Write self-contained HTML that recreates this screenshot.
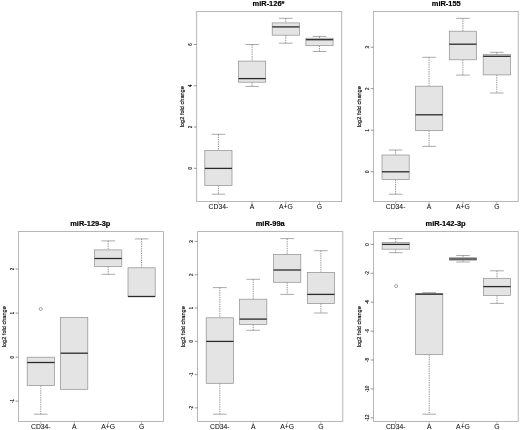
<!DOCTYPE html>
<html lang="en">
<head>
<meta charset="utf-8">
<title>miRNA log2 fold change boxplots</title>
<style>
html,body{margin:0;padding:0;background:#fff;}
body{width:520px;height:430px;overflow:hidden;}
svg{display:block;}
text{font-family:"Liberation Sans",Arial,sans-serif;fill:#222;}
.ttl{font-size:7.45px;font-weight:bold;text-anchor:middle;fill:#000;stroke:#000;stroke-width:0.18px;}
.yl{font-size:5.6px;text-anchor:middle;fill:#111;stroke:#111;stroke-width:0.2px;}
.tk{font-size:4.5px;text-anchor:middle;fill:#111;stroke:#111;stroke-width:0.15px;}
.xl{font-size:6.8px;text-anchor:middle;fill:#111;stroke:#111;stroke-width:0.06px;}
</style>
</head>
<body>
<svg width="520" height="430" viewBox="0 0 520 430">
<rect x="0" y="0" width="520" height="430" fill="#fff"/>
<g>
<rect x="196.7" y="11.5" width="145" height="190" fill="#fff" stroke="#a6a6a6" stroke-width="0.8"/>
<text class="ttl" x="268.5" y="6.25">miR-126*</text>
<text class="yl" transform="translate(184.4 106.7) rotate(-90)">log2 fold change</text>
<line x1="193.9" y1="168.3" x2="196.7" y2="168.3" stroke="#6a6a6a" stroke-width="0.7"/>
<text class="tk" transform="translate(191.8 168.3) rotate(-90)">0</text>
<line x1="193.9" y1="127" x2="196.7" y2="127" stroke="#6a6a6a" stroke-width="0.7"/>
<text class="tk" transform="translate(191.8 127) rotate(-90)">2</text>
<line x1="193.9" y1="85.8" x2="196.7" y2="85.8" stroke="#6a6a6a" stroke-width="0.7"/>
<text class="tk" transform="translate(191.8 85.8) rotate(-90)">4</text>
<line x1="193.9" y1="44.5" x2="196.7" y2="44.5" stroke="#6a6a6a" stroke-width="0.7"/>
<text class="tk" transform="translate(191.8 44.5) rotate(-90)">6</text>
<line x1="218.4" y1="201.5" x2="218.4" y2="204.1" stroke="#8a8a8a" stroke-width="0.6"/>
<text class="xl" x="218.4" y="209.05">CD34-</text>
<line x1="252.1" y1="201.5" x2="252.1" y2="204.1" stroke="#8a8a8a" stroke-width="0.6"/>
<text class="xl" x="252.1" y="209.05">A</text>
<line x1="285.8" y1="201.5" x2="285.8" y2="204.1" stroke="#8a8a8a" stroke-width="0.6"/>
<text class="xl" x="285.8" y="209.05">A+G</text>
<line x1="319.5" y1="201.5" x2="319.5" y2="204.1" stroke="#8a8a8a" stroke-width="0.6"/>
<text class="xl" x="319.5" y="209.05">G</text>
<line x1="218.4" y1="134.3" x2="218.4" y2="150.5" stroke="#838383" stroke-width="0.85" stroke-dasharray="1.4 0.9"/>
<line x1="211.6" y1="134.3" x2="225.2" y2="134.3" stroke="#707070" stroke-width="0.6"/>
<line x1="218.4" y1="185.4" x2="218.4" y2="194.2" stroke="#838383" stroke-width="0.85" stroke-dasharray="1.4 0.9"/>
<line x1="211.6" y1="194.2" x2="225.2" y2="194.2" stroke="#707070" stroke-width="0.6"/>
<rect x="204.8" y="150.5" width="27.2" height="34.9" fill="#e4e4e4" stroke="#8e8e8e" stroke-width="0.7"/>
<line x1="204.8" y1="168.4" x2="232" y2="168.4" stroke="#2a2a2a" stroke-width="1.3"/>
<line x1="252.1" y1="44.5" x2="252.1" y2="61.1" stroke="#838383" stroke-width="0.85" stroke-dasharray="1.4 0.9"/>
<line x1="245.3" y1="44.5" x2="258.9" y2="44.5" stroke="#707070" stroke-width="0.6"/>
<line x1="252.1" y1="82.2" x2="252.1" y2="86.4" stroke="#838383" stroke-width="0.85" stroke-dasharray="1.4 0.9"/>
<line x1="245.3" y1="86.4" x2="258.9" y2="86.4" stroke="#707070" stroke-width="0.6"/>
<rect x="238.5" y="61.1" width="27.2" height="21.1" fill="#e4e4e4" stroke="#8e8e8e" stroke-width="0.7"/>
<line x1="238.5" y1="78.6" x2="265.7" y2="78.6" stroke="#2a2a2a" stroke-width="1.3"/>
<line x1="285.8" y1="18.3" x2="285.8" y2="22.9" stroke="#838383" stroke-width="0.85" stroke-dasharray="1.4 0.9"/>
<line x1="279" y1="18.3" x2="292.6" y2="18.3" stroke="#707070" stroke-width="0.6"/>
<line x1="285.8" y1="35.2" x2="285.8" y2="43.2" stroke="#838383" stroke-width="0.85" stroke-dasharray="1.4 0.9"/>
<line x1="279" y1="43.2" x2="292.6" y2="43.2" stroke="#707070" stroke-width="0.6"/>
<rect x="272.2" y="22.9" width="27.2" height="12.3" fill="#e4e4e4" stroke="#8e8e8e" stroke-width="0.7"/>
<line x1="272.2" y1="26.9" x2="299.4" y2="26.9" stroke="#2a2a2a" stroke-width="1.3"/>
<line x1="319.5" y1="36.4" x2="319.5" y2="38.2" stroke="#838383" stroke-width="0.85" stroke-dasharray="1.4 0.9"/>
<line x1="312.7" y1="36.4" x2="326.3" y2="36.4" stroke="#707070" stroke-width="0.6"/>
<line x1="319.5" y1="45.7" x2="319.5" y2="51.5" stroke="#838383" stroke-width="0.85" stroke-dasharray="1.4 0.9"/>
<line x1="312.7" y1="51.5" x2="326.3" y2="51.5" stroke="#707070" stroke-width="0.6"/>
<rect x="305.9" y="38.2" width="27.2" height="7.5" fill="#e4e4e4" stroke="#8e8e8e" stroke-width="0.7"/>
<line x1="305.9" y1="39.7" x2="333.1" y2="39.7" stroke="#2a2a2a" stroke-width="1.3"/>
</g>
<g>
<rect x="373.5" y="11.5" width="144.7" height="190" fill="#fff" stroke="#a6a6a6" stroke-width="0.8"/>
<text class="ttl" x="446.25" y="6.25">miR-155</text>
<text class="yl" transform="translate(361.2 106.7) rotate(-90)">log2 fold change</text>
<line x1="370.7" y1="171.7" x2="373.5" y2="171.7" stroke="#6a6a6a" stroke-width="0.7"/>
<text class="tk" transform="translate(368.6 171.7) rotate(-90)">0</text>
<line x1="370.7" y1="130.2" x2="373.5" y2="130.2" stroke="#6a6a6a" stroke-width="0.7"/>
<text class="tk" transform="translate(368.6 130.2) rotate(-90)">1</text>
<line x1="370.7" y1="88.7" x2="373.5" y2="88.7" stroke="#6a6a6a" stroke-width="0.7"/>
<text class="tk" transform="translate(368.6 88.7) rotate(-90)">2</text>
<line x1="370.7" y1="47.2" x2="373.5" y2="47.2" stroke="#6a6a6a" stroke-width="0.7"/>
<text class="tk" transform="translate(368.6 47.2) rotate(-90)">3</text>
<line x1="395.6" y1="201.5" x2="395.6" y2="204.1" stroke="#8a8a8a" stroke-width="0.6"/>
<text class="xl" x="395.6" y="209.05">CD34-</text>
<line x1="429.1" y1="201.5" x2="429.1" y2="204.1" stroke="#8a8a8a" stroke-width="0.6"/>
<text class="xl" x="429.1" y="209.05">A</text>
<line x1="462.9" y1="201.5" x2="462.9" y2="204.1" stroke="#8a8a8a" stroke-width="0.6"/>
<text class="xl" x="462.9" y="209.05">A+G</text>
<line x1="496.8" y1="201.5" x2="496.8" y2="204.1" stroke="#8a8a8a" stroke-width="0.6"/>
<text class="xl" x="496.8" y="209.05">G</text>
<line x1="395.6" y1="150" x2="395.6" y2="155" stroke="#838383" stroke-width="0.85" stroke-dasharray="1.4 0.9"/>
<line x1="388.8" y1="150" x2="402.4" y2="150" stroke="#707070" stroke-width="0.6"/>
<line x1="395.6" y1="179.4" x2="395.6" y2="194.2" stroke="#838383" stroke-width="0.85" stroke-dasharray="1.4 0.9"/>
<line x1="388.8" y1="194.2" x2="402.4" y2="194.2" stroke="#707070" stroke-width="0.6"/>
<rect x="382" y="155" width="27.2" height="24.4" fill="#e4e4e4" stroke="#8e8e8e" stroke-width="0.7"/>
<line x1="382" y1="171.8" x2="409.2" y2="171.8" stroke="#2a2a2a" stroke-width="1.3"/>
<line x1="429.1" y1="57.3" x2="429.1" y2="86.2" stroke="#838383" stroke-width="0.85" stroke-dasharray="1.4 0.9"/>
<line x1="422.3" y1="57.3" x2="435.9" y2="57.3" stroke="#707070" stroke-width="0.6"/>
<line x1="429.1" y1="130.6" x2="429.1" y2="146.4" stroke="#838383" stroke-width="0.85" stroke-dasharray="1.4 0.9"/>
<line x1="422.3" y1="146.4" x2="435.9" y2="146.4" stroke="#707070" stroke-width="0.6"/>
<rect x="415.5" y="86.2" width="27.2" height="44.4" fill="#e4e4e4" stroke="#8e8e8e" stroke-width="0.7"/>
<line x1="415.5" y1="114.8" x2="442.7" y2="114.8" stroke="#2a2a2a" stroke-width="1.3"/>
<line x1="462.9" y1="18.3" x2="462.9" y2="31.2" stroke="#838383" stroke-width="0.85" stroke-dasharray="1.4 0.9"/>
<line x1="456.1" y1="18.3" x2="469.7" y2="18.3" stroke="#707070" stroke-width="0.6"/>
<line x1="462.9" y1="59.8" x2="462.9" y2="75.1" stroke="#838383" stroke-width="0.85" stroke-dasharray="1.4 0.9"/>
<line x1="456.1" y1="75.1" x2="469.7" y2="75.1" stroke="#707070" stroke-width="0.6"/>
<rect x="449.3" y="31.2" width="27.2" height="28.6" fill="#e4e4e4" stroke="#8e8e8e" stroke-width="0.7"/>
<line x1="449.3" y1="44.2" x2="476.5" y2="44.2" stroke="#2a2a2a" stroke-width="1.3"/>
<line x1="496.8" y1="52.3" x2="496.8" y2="54.3" stroke="#838383" stroke-width="0.85" stroke-dasharray="1.4 0.9"/>
<line x1="490" y1="52.3" x2="503.6" y2="52.3" stroke="#707070" stroke-width="0.6"/>
<line x1="496.8" y1="74.9" x2="496.8" y2="93" stroke="#838383" stroke-width="0.85" stroke-dasharray="1.4 0.9"/>
<line x1="490" y1="93" x2="503.6" y2="93" stroke="#707070" stroke-width="0.6"/>
<rect x="483.2" y="54.3" width="27.2" height="20.6" fill="#e4e4e4" stroke="#8e8e8e" stroke-width="0.7"/>
<line x1="483.2" y1="56.3" x2="510.4" y2="56.3" stroke="#2a2a2a" stroke-width="1.3"/>
</g>
<g>
<rect x="18.4" y="231.6" width="145.2" height="189.9" fill="#fff" stroke="#a6a6a6" stroke-width="0.8"/>
<text class="ttl" x="90.3" y="226.35">miR-129-3p</text>
<text class="yl" transform="translate(6.1 326.75) rotate(-90)">log2 fold change</text>
<line x1="15.6" y1="401.1" x2="18.4" y2="401.1" stroke="#6a6a6a" stroke-width="0.7"/>
<text class="tk" transform="translate(13.5 401.1) rotate(-90)">-1</text>
<line x1="15.6" y1="357.2" x2="18.4" y2="357.2" stroke="#6a6a6a" stroke-width="0.7"/>
<text class="tk" transform="translate(13.5 357.2) rotate(-90)">0</text>
<line x1="15.6" y1="313.1" x2="18.4" y2="313.1" stroke="#6a6a6a" stroke-width="0.7"/>
<text class="tk" transform="translate(13.5 313.1) rotate(-90)">1</text>
<line x1="15.6" y1="269" x2="18.4" y2="269" stroke="#6a6a6a" stroke-width="0.7"/>
<text class="tk" transform="translate(13.5 269) rotate(-90)">2</text>
<line x1="40.8" y1="421.5" x2="40.8" y2="424.1" stroke="#8a8a8a" stroke-width="0.6"/>
<text class="xl" x="40.8" y="429.05">CD34-</text>
<line x1="74.2" y1="421.5" x2="74.2" y2="424.1" stroke="#8a8a8a" stroke-width="0.6"/>
<text class="xl" x="74.2" y="429.05">A</text>
<line x1="108.2" y1="421.5" x2="108.2" y2="424.1" stroke="#8a8a8a" stroke-width="0.6"/>
<text class="xl" x="108.2" y="429.05">A+G</text>
<line x1="141.6" y1="421.5" x2="141.6" y2="424.1" stroke="#8a8a8a" stroke-width="0.6"/>
<text class="xl" x="141.6" y="429.05">G</text>
<line x1="40.8" y1="385.5" x2="40.8" y2="414.2" stroke="#838383" stroke-width="0.85" stroke-dasharray="1.4 0.9"/>
<line x1="34" y1="414.2" x2="47.6" y2="414.2" stroke="#707070" stroke-width="0.6"/>
<rect x="27.2" y="357.2" width="27.2" height="28.3" fill="#e4e4e4" stroke="#8e8e8e" stroke-width="0.7"/>
<line x1="27.2" y1="362.5" x2="54.4" y2="362.5" stroke="#2a2a2a" stroke-width="1.3"/>
<rect x="60.6" y="317.5" width="27.2" height="71.8" fill="#e4e4e4" stroke="#8e8e8e" stroke-width="0.7"/>
<line x1="60.6" y1="353.2" x2="87.8" y2="353.2" stroke="#2a2a2a" stroke-width="1.3"/>
<line x1="108.2" y1="240.9" x2="108.2" y2="249.9" stroke="#838383" stroke-width="0.85" stroke-dasharray="1.4 0.9"/>
<line x1="101.4" y1="240.9" x2="115" y2="240.9" stroke="#707070" stroke-width="0.6"/>
<line x1="108.2" y1="266.5" x2="108.2" y2="274.3" stroke="#838383" stroke-width="0.85" stroke-dasharray="1.4 0.9"/>
<line x1="101.4" y1="274.3" x2="115" y2="274.3" stroke="#707070" stroke-width="0.6"/>
<rect x="94.6" y="249.9" width="27.2" height="16.6" fill="#e4e4e4" stroke="#8e8e8e" stroke-width="0.7"/>
<line x1="94.6" y1="258.5" x2="121.8" y2="258.5" stroke="#2a2a2a" stroke-width="1.3"/>
<line x1="141.6" y1="238.9" x2="141.6" y2="267.8" stroke="#838383" stroke-width="0.85" stroke-dasharray="1.4 0.9"/>
<line x1="134.8" y1="238.9" x2="148.4" y2="238.9" stroke="#707070" stroke-width="0.6"/>
<rect x="128" y="267.8" width="27.2" height="28.7" fill="#e4e4e4" stroke="#8e8e8e" stroke-width="0.7"/>
<line x1="128" y1="296.5" x2="155.2" y2="296.5" stroke="#2a2a2a" stroke-width="1.3"/>
<circle cx="40.8" cy="309" r="1.55" fill="none" stroke="#6e6e6e" stroke-width="0.6"/>
</g>
<g>
<rect x="197.6" y="231.6" width="145.2" height="189.9" fill="#fff" stroke="#a6a6a6" stroke-width="0.8"/>
<text class="ttl" x="270.2" y="226.35">miR-99a</text>
<text class="yl" transform="translate(185.3 326.75) rotate(-90)">log2 fold change</text>
<line x1="194.8" y1="407.9" x2="197.6" y2="407.9" stroke="#6a6a6a" stroke-width="0.7"/>
<text class="tk" transform="translate(192.7 407.9) rotate(-90)">-2</text>
<line x1="194.8" y1="374.6" x2="197.6" y2="374.6" stroke="#6a6a6a" stroke-width="0.7"/>
<text class="tk" transform="translate(192.7 374.6) rotate(-90)">-1</text>
<line x1="194.8" y1="341.3" x2="197.6" y2="341.3" stroke="#6a6a6a" stroke-width="0.7"/>
<text class="tk" transform="translate(192.7 341.3) rotate(-90)">0</text>
<line x1="194.8" y1="308" x2="197.6" y2="308" stroke="#6a6a6a" stroke-width="0.7"/>
<text class="tk" transform="translate(192.7 308) rotate(-90)">1</text>
<line x1="194.8" y1="274.8" x2="197.6" y2="274.8" stroke="#6a6a6a" stroke-width="0.7"/>
<text class="tk" transform="translate(192.7 274.8) rotate(-90)">2</text>
<line x1="194.8" y1="241.4" x2="197.6" y2="241.4" stroke="#6a6a6a" stroke-width="0.7"/>
<text class="tk" transform="translate(192.7 241.4) rotate(-90)">3</text>
<line x1="219.8" y1="421.5" x2="219.8" y2="424.1" stroke="#8a8a8a" stroke-width="0.6"/>
<text class="xl" x="219.8" y="429.05">CD34-</text>
<line x1="253.2" y1="421.5" x2="253.2" y2="424.1" stroke="#8a8a8a" stroke-width="0.6"/>
<text class="xl" x="253.2" y="429.05">A</text>
<line x1="287.2" y1="421.5" x2="287.2" y2="424.1" stroke="#8a8a8a" stroke-width="0.6"/>
<text class="xl" x="287.2" y="429.05">A+G</text>
<line x1="320.9" y1="421.5" x2="320.9" y2="424.1" stroke="#8a8a8a" stroke-width="0.6"/>
<text class="xl" x="320.9" y="429.05">G</text>
<line x1="219.8" y1="287.6" x2="219.8" y2="317.8" stroke="#838383" stroke-width="0.85" stroke-dasharray="1.4 0.9"/>
<line x1="213" y1="287.6" x2="226.6" y2="287.6" stroke="#707070" stroke-width="0.6"/>
<line x1="219.8" y1="383.3" x2="219.8" y2="414.2" stroke="#838383" stroke-width="0.85" stroke-dasharray="1.4 0.9"/>
<line x1="213" y1="414.2" x2="226.6" y2="414.2" stroke="#707070" stroke-width="0.6"/>
<rect x="206.2" y="317.8" width="27.2" height="65.5" fill="#e4e4e4" stroke="#8e8e8e" stroke-width="0.7"/>
<line x1="206.2" y1="341.4" x2="233.4" y2="341.4" stroke="#2a2a2a" stroke-width="1.3"/>
<line x1="253.2" y1="279.3" x2="253.2" y2="299.2" stroke="#838383" stroke-width="0.85" stroke-dasharray="1.4 0.9"/>
<line x1="246.4" y1="279.3" x2="260" y2="279.3" stroke="#707070" stroke-width="0.6"/>
<line x1="253.2" y1="324.5" x2="253.2" y2="330.3" stroke="#838383" stroke-width="0.85" stroke-dasharray="1.4 0.9"/>
<line x1="246.4" y1="330.3" x2="260" y2="330.3" stroke="#707070" stroke-width="0.6"/>
<rect x="239.6" y="299.2" width="27.2" height="25.3" fill="#e4e4e4" stroke="#8e8e8e" stroke-width="0.7"/>
<line x1="239.6" y1="319.1" x2="266.8" y2="319.1" stroke="#2a2a2a" stroke-width="1.3"/>
<line x1="287.2" y1="238.6" x2="287.2" y2="254.4" stroke="#838383" stroke-width="0.85" stroke-dasharray="1.4 0.9"/>
<line x1="280.4" y1="238.6" x2="294" y2="238.6" stroke="#707070" stroke-width="0.6"/>
<line x1="287.2" y1="282.3" x2="287.2" y2="294.4" stroke="#838383" stroke-width="0.85" stroke-dasharray="1.4 0.9"/>
<line x1="280.4" y1="294.4" x2="294" y2="294.4" stroke="#707070" stroke-width="0.6"/>
<rect x="273.6" y="254.4" width="27.2" height="27.9" fill="#e4e4e4" stroke="#8e8e8e" stroke-width="0.7"/>
<line x1="273.6" y1="270" x2="300.8" y2="270" stroke="#2a2a2a" stroke-width="1.3"/>
<line x1="320.9" y1="250.7" x2="320.9" y2="272.5" stroke="#838383" stroke-width="0.85" stroke-dasharray="1.4 0.9"/>
<line x1="314.1" y1="250.7" x2="327.7" y2="250.7" stroke="#707070" stroke-width="0.6"/>
<line x1="320.9" y1="303.4" x2="320.9" y2="313" stroke="#838383" stroke-width="0.85" stroke-dasharray="1.4 0.9"/>
<line x1="314.1" y1="313" x2="327.7" y2="313" stroke="#707070" stroke-width="0.6"/>
<rect x="307.3" y="272.5" width="27.2" height="30.9" fill="#e4e4e4" stroke="#8e8e8e" stroke-width="0.7"/>
<line x1="307.3" y1="294.4" x2="334.5" y2="294.4" stroke="#2a2a2a" stroke-width="1.3"/>
</g>
<g>
<rect x="373.5" y="231.6" width="144.7" height="189.9" fill="#fff" stroke="#a6a6a6" stroke-width="0.8"/>
<text class="ttl" x="445.6" y="226.35">miR-142-3p</text>
<text class="yl" transform="translate(361.2 326.75) rotate(-90)">log2 fold change</text>
<line x1="370.7" y1="244.4" x2="373.5" y2="244.4" stroke="#6a6a6a" stroke-width="0.7"/>
<text class="tk" transform="translate(368.6 244.4) rotate(-90)">0</text>
<line x1="370.7" y1="273.3" x2="373.5" y2="273.3" stroke="#6a6a6a" stroke-width="0.7"/>
<text class="tk" transform="translate(368.6 273.3) rotate(-90)">-2</text>
<line x1="370.7" y1="302.2" x2="373.5" y2="302.2" stroke="#6a6a6a" stroke-width="0.7"/>
<text class="tk" transform="translate(368.6 302.2) rotate(-90)">-4</text>
<line x1="370.7" y1="331.1" x2="373.5" y2="331.1" stroke="#6a6a6a" stroke-width="0.7"/>
<text class="tk" transform="translate(368.6 331.1) rotate(-90)">-6</text>
<line x1="370.7" y1="360" x2="373.5" y2="360" stroke="#6a6a6a" stroke-width="0.7"/>
<text class="tk" transform="translate(368.6 360) rotate(-90)">-8</text>
<line x1="370.7" y1="388.9" x2="373.5" y2="388.9" stroke="#6a6a6a" stroke-width="0.7"/>
<text class="tk" transform="translate(368.6 388.9) rotate(-90)">-10</text>
<line x1="370.7" y1="417.8" x2="373.5" y2="417.8" stroke="#6a6a6a" stroke-width="0.7"/>
<text class="tk" transform="translate(368.6 417.8) rotate(-90)">-12</text>
<line x1="395.7" y1="421.5" x2="395.7" y2="424.1" stroke="#8a8a8a" stroke-width="0.6"/>
<text class="xl" x="395.7" y="429.05">CD34-</text>
<line x1="429.2" y1="421.5" x2="429.2" y2="424.1" stroke="#8a8a8a" stroke-width="0.6"/>
<text class="xl" x="429.2" y="429.05">A</text>
<line x1="463" y1="421.5" x2="463" y2="424.1" stroke="#8a8a8a" stroke-width="0.6"/>
<text class="xl" x="463" y="429.05">A+G</text>
<line x1="497" y1="421.5" x2="497" y2="424.1" stroke="#8a8a8a" stroke-width="0.6"/>
<text class="xl" x="497" y="429.05">G</text>
<line x1="395.7" y1="238.6" x2="395.7" y2="242.6" stroke="#838383" stroke-width="0.85" stroke-dasharray="1.4 0.9"/>
<line x1="388.9" y1="238.6" x2="402.5" y2="238.6" stroke="#707070" stroke-width="0.6"/>
<line x1="395.7" y1="249.2" x2="395.7" y2="252.7" stroke="#838383" stroke-width="0.85" stroke-dasharray="1.4 0.9"/>
<line x1="388.9" y1="252.7" x2="402.5" y2="252.7" stroke="#707070" stroke-width="0.6"/>
<rect x="382.1" y="242.6" width="27.2" height="6.6" fill="#e4e4e4" stroke="#8e8e8e" stroke-width="0.7"/>
<line x1="382.1" y1="244.4" x2="409.3" y2="244.4" stroke="#2a2a2a" stroke-width="1.3"/>
<line x1="429.2" y1="292.6" x2="429.2" y2="293.4" stroke="#838383" stroke-width="0.85" stroke-dasharray="1.4 0.9"/>
<line x1="422.4" y1="292.6" x2="436" y2="292.6" stroke="#707070" stroke-width="0.6"/>
<line x1="429.2" y1="354.4" x2="429.2" y2="414.2" stroke="#838383" stroke-width="0.85" stroke-dasharray="1.4 0.9"/>
<line x1="422.4" y1="414.2" x2="436" y2="414.2" stroke="#707070" stroke-width="0.6"/>
<rect x="415.6" y="293.4" width="27.2" height="61" fill="#e4e4e4" stroke="#8e8e8e" stroke-width="0.7"/>
<line x1="415.6" y1="294.2" x2="442.8" y2="294.2" stroke="#2a2a2a" stroke-width="1.3"/>
<line x1="463" y1="255.5" x2="463" y2="257.7" stroke="#838383" stroke-width="0.85" stroke-dasharray="1.4 0.9"/>
<line x1="456.2" y1="255.5" x2="469.8" y2="255.5" stroke="#707070" stroke-width="0.6"/>
<line x1="463" y1="260.2" x2="463" y2="262" stroke="#838383" stroke-width="0.85" stroke-dasharray="1.4 0.9"/>
<line x1="456.2" y1="262" x2="469.8" y2="262" stroke="#707070" stroke-width="0.6"/>
<rect x="449.4" y="257.7" width="27.2" height="2.5" fill="#e4e4e4" stroke="#8e8e8e" stroke-width="0.7"/>
<line x1="449.4" y1="259" x2="476.6" y2="259" stroke="#2a2a2a" stroke-width="1.3"/>
<line x1="497" y1="270.8" x2="497" y2="278.3" stroke="#838383" stroke-width="0.85" stroke-dasharray="1.4 0.9"/>
<line x1="490.2" y1="270.8" x2="503.8" y2="270.8" stroke="#707070" stroke-width="0.6"/>
<line x1="497" y1="295.4" x2="497" y2="303.4" stroke="#838383" stroke-width="0.85" stroke-dasharray="1.4 0.9"/>
<line x1="490.2" y1="303.4" x2="503.8" y2="303.4" stroke="#707070" stroke-width="0.6"/>
<rect x="483.4" y="278.3" width="27.2" height="17.1" fill="#e4e4e4" stroke="#8e8e8e" stroke-width="0.7"/>
<line x1="483.4" y1="286.6" x2="510.6" y2="286.6" stroke="#2a2a2a" stroke-width="1.3"/>
<circle cx="396.1" cy="286.1" r="1.55" fill="none" stroke="#6e6e6e" stroke-width="0.6"/>
</g>
</svg>
</body>
</html>
